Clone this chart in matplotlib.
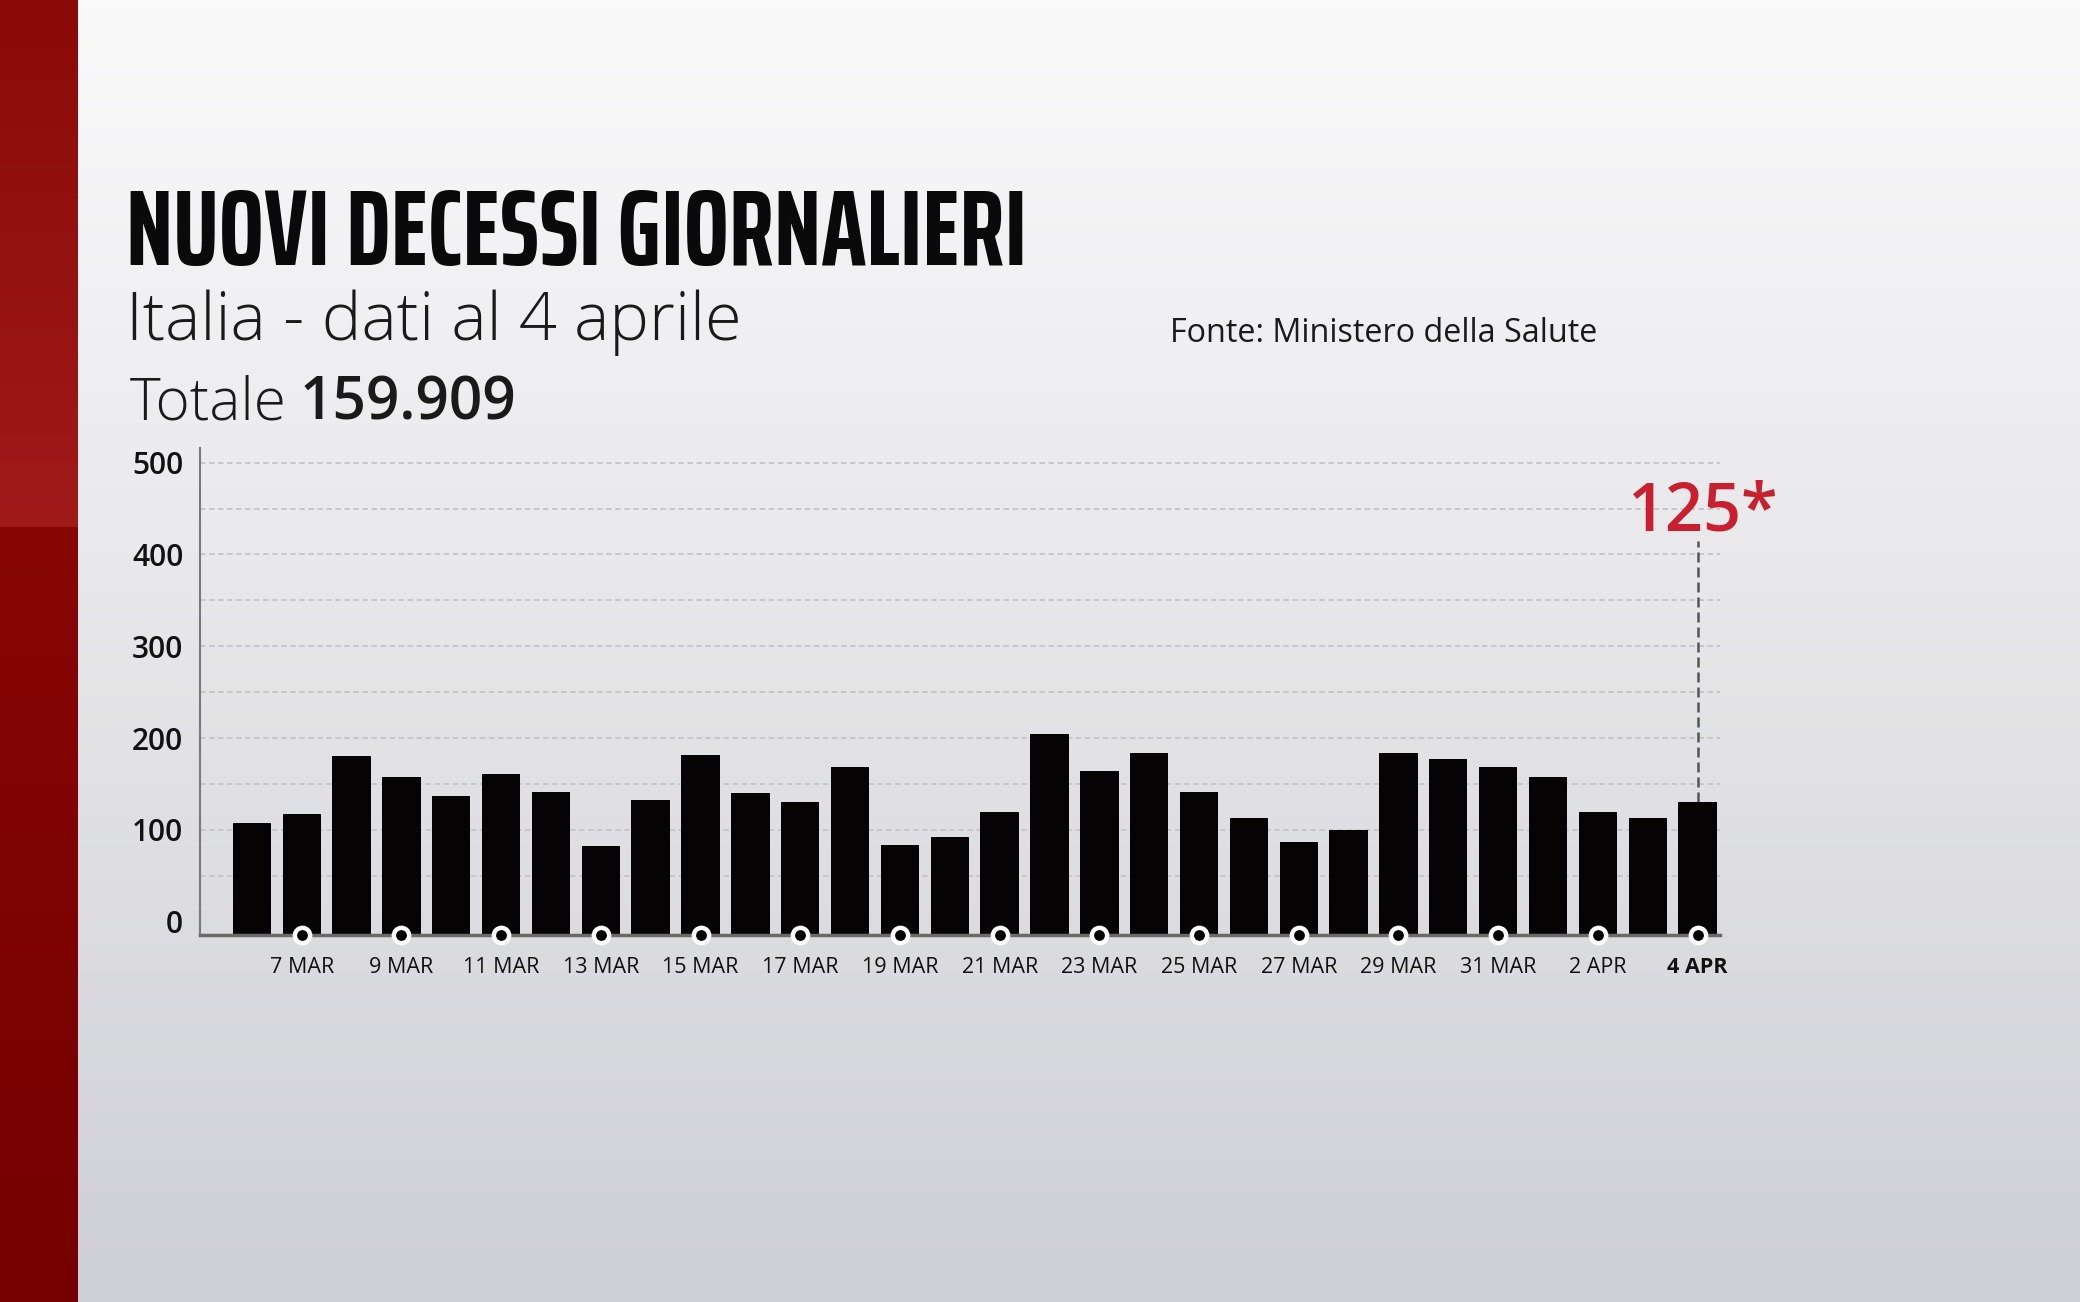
import numpy as np
import matplotlib
matplotlib.use('Agg')
import matplotlib.pyplot as plt
from matplotlib import font_manager
from matplotlib.font_manager import FontProperties

# nuovi decessi giornalieri, 6 marzo - 4 aprile
giorni = ['6 MAR', '7 MAR', '8 MAR', '9 MAR', '10 MAR', '11 MAR', '12 MAR', '13 MAR',
          '14 MAR', '15 MAR', '16 MAR', '17 MAR', '18 MAR', '19 MAR', '20 MAR', '21 MAR',
          '22 MAR', '23 MAR', '24 MAR', '25 MAR', '26 MAR', '27 MAR', '28 MAR', '29 MAR',
          '30 MAR', '31 MAR', '1 APR', '2 APR', '3 APR', '4 APR']
decessi = [108, 117, 181, 158, 137, 161, 141, 82, 133, 182,
           140, 130, 168, 84, 92, 120, 204, 164, 184, 141,
           113, 87, 100, 184, 177, 168, 158, 120, 113, 130]
etichetta_ultimo = '125*'

titolo = 'NUOVI DECESSI GIORNALIERI'
sottotitolo = 'Italia - dati al 4 aprile'
totale_txt = 'Totale'
totale_val = '159.909'
fonte = 'Fonte: Ministero della Salute'

W, H = 2080, 1302
RED = '#c8202e'
BAR = '#050304'
TXT = '#111111'


def font_condensata():
    # font stretto e pesante per il titolo, il primo che c'e'
    preferiti = ['SairaExtraCondensed-Bold.ttf', 'SairaCondensed-Bold.ttf',
                 'BarlowCondensed-SemiBold.ttf', 'FiraSansExtraCondensed-Bold.ttf',
                 'BarlowCondensed-Bold.ttf', 'DejaVuSansCondensed-Bold.ttf']
    files = {f.fname.split('/')[-1]: f.fname for f in font_manager.fontManager.ttflist}
    for p in preferiti:
        if p in files:
            return FontProperties(fname=files[p])
    return FontProperties(family='DejaVu Sans', weight='bold')


def fx(px):
    return px / W


def fy(py):
    return 1 - py / H


fig = plt.figure(figsize=(W / 100, H / 100), dpi=100)

# sfondo grigio sfumato + banda rossa a sinistra
bg = fig.add_axes([0, 0, 1, 1], zorder=-10)
t = np.linspace(0, 1, 400)[:, None]
top = np.array([250, 250, 251]) / 255
mid = np.array([232, 232, 235]) / 255
bot = np.array([206, 207, 213]) / 255
grad = np.where(t < 0.45, top + (mid - top) * (t / 0.45),
                mid + (bot - mid) * ((t - 0.45) / 0.55))
grad = np.repeat(grad[:, None, :], 2, axis=1)
bg.imshow(grad, aspect='auto', extent=[0, 1, 0, 1])
rt = np.linspace(0, 1, 400)[:, None]
r_top = np.array([138, 10, 10]) / 255
r_mid = np.array([160, 26, 26]) / 255
r_low = np.array([136, 6, 6]) / 255
r_bot = np.array([118, 0, 0]) / 255
cut = 527 / H
red = np.where(rt < cut, r_top + (r_mid - r_top) * (rt / cut),
               r_low + (r_bot - r_low) * ((rt - cut) / (1 - cut)))
red = np.repeat(red[:, None, :], 2, axis=1)
bg.imshow(red, aspect='auto', extent=[0, fx(78), 0, 1])
bg.set_xlim(0, 1)
bg.set_ylim(0, 1)
bg.axis('off')

# grafico a barre
ax = fig.add_axes([fx(200), fy(935), fx(1720) - fx(200), fy(448) - fy(935)])
ax.set_facecolor('none')
x = np.arange(len(decessi))
vals = np.array(decessi, dtype=float)
ymin, ymax = -14.5, 516
ax.set_xlim(-1.04, len(decessi) - 1 + 0.45)
ax.set_ylim(ymin, ymax)

for g in range(50, 501, 50):
    ax.axhline(g, color='#c4c4c9', lw=1.3, ls=(0, (3, 2)), zorder=0)

ax.bar(x, vals - ymin, bottom=ymin, width=0.77, color=BAR, zorder=2)

ax.plot(x[1::2], [ymin] * len(x[1::2]), 'o', ms=11, mfc='black', mec='white',
        mew=3.2, clip_on=False, zorder=5)

for s in ['top', 'right']:
    ax.spines[s].set_visible(False)
ax.spines['left'].set_color('#7a7a7a')
ax.spines['left'].set_linewidth(1.5)
ax.spines['bottom'].set_color('#6a6a6a')
ax.spines['bottom'].set_linewidth(2.5)
ax.spines['bottom'].set_zorder(3)

ax.set_yticks(range(0, 501, 100))
ax.set_yticklabels([str(v) for v in range(0, 501, 100)],
                   fontfamily='Open Sans', fontweight='semibold', fontsize=21.5, color=TXT)
ax.set_xticks(x[1::2])
ax.set_xticklabels([giorni[i] for i in x[1::2]], fontfamily='Open Sans',
                   fontweight='medium', fontsize=15.5, color=TXT)
ax.get_xticklabels()[-1].set_fontweight('bold')
ax.tick_params(axis='y', length=0, pad=12)
ax.tick_params(axis='x', length=0, pad=16)

# valore dell'ultimo giorno
ax.plot([x[-1], x[-1]], [vals[-1], 415], ls=(0, (4, 2)), color='#555555', lw=1.8, zorder=1)
ax.text(x[-1] + 0.12, 426, etichetta_ultimo, color=RED, fontsize=48,
        fontfamily='Open Sans', fontweight='semibold', ha='center', va='baseline')

# testi
fig.canvas.draw()
rnd = fig.canvas.get_renderer()


def adatta(txt, larghezza, max_size):
    w = txt.get_window_extent(rnd).width
    txt.set_fontsize(min(max_size, txt.get_fontsize() * larghezza / w))


tt = fig.text(fx(126), fy(265), titolo, fontproperties=font_condensata(),
              fontsize=70, color='#0a0a0a', va='baseline')
adatta(tt, 900, 80)

st = fig.text(fx(126), fy(340), sottotitolo, fontfamily='Open Sans', fontweight='light',
              fontsize=44, color='#1a1a1a', va='baseline')
adatta(st, 622, 48)

t1 = fig.text(fx(130), fy(419), totale_txt, fontfamily='Open Sans', fontweight='light',
              fontsize=38, color='#1a1a1a', va='baseline')
adatta(t1, 157, 44)
ax.annotate(totale_val, xy=(1, 0), xycoords=t1, xytext=(9, 0),
            textcoords='offset points', fontfamily='Open Sans',
            fontweight='semibold', fontsize=t1.get_fontsize(),
            color='#1a1a1a', va='bottom', ha='left', annotation_clip=False)

ft = fig.text(fx(1170), fy(342), fonte, fontfamily='Open Sans', fontweight='normal',
              fontsize=22, color='#1a1a1a', va='baseline')
adatta(ft, 428, 24)

fig.savefig('out.png', dpi=100)
